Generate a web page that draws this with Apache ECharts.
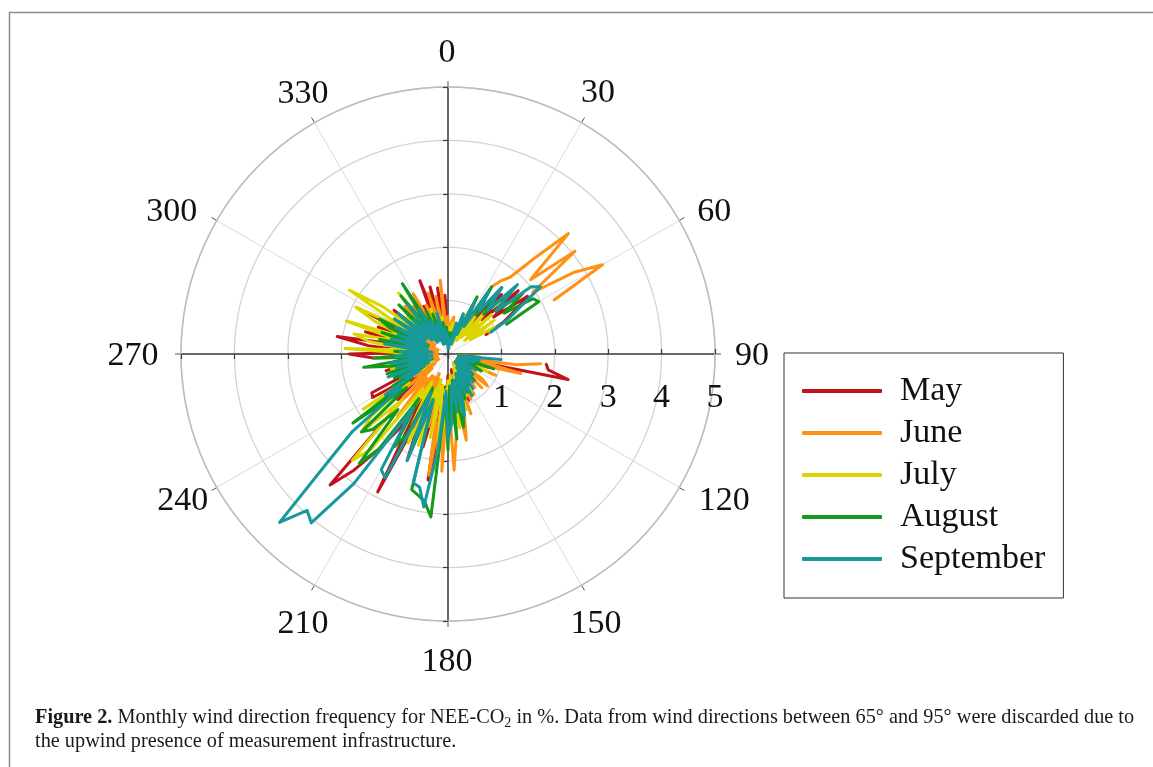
<!DOCTYPE html>
<html>
<head>
<meta charset="utf-8">
<script src="https://cdn.jsdelivr.net/npm/echarts@6/dist/echarts.min.js"></script>
<style>
  html, body { margin: 0; padding: 0; background: #fff; }
  #chart { width: 1153px; height: 767px; }
</style>
</head>
<body>
<div id="chart"></div>
<script>
// Wind direction bins (degrees clockwise from north). 65°–95° discarded.
const directions = [
  96, 99, 102, 105, 108, 111, 114, 117, 120, 123,
  126, 129, 132, 135, 138, 141, 144, 147, 150, 153,
  156, 159, 162, 165, 168, 171, 174, 177, 180, 183,
  186, 189, 192, 195, 198, 201, 204, 207, 210, 213,
  216, 219, 222, 225, 228, 231, 234, 237, 240, 243,
  246, 249, 252, 255, 258, 261, 264, 267, 270, 273,
  276, 279, 282, 285, 288, 291, 294, 297, 300, 303,
  306, 309, 312, 315, 318, 321, 324, 327, 330, 333,
  336, 339, 342, 345, 348, 351, 354, 357, 0, 3,
  6, 9, 12, 15, 18, 21, 24, 27, 30, 33,
  36, 39, 42, 45, 48, 51, 54, 57, 60, 63
];

// Frequency (%) per direction bin, one array per month
const may = [
  1.85, 1.9, 2.3, 0.5, 0.8, 0.3, 0.6, 0.2, 0.5, 0.2,
  0.4, 0.2, 0.5, 0.3, 0.2, 0.5, 0.3, 0.6, 0.2, 0.7,
  0.95, 0.3, 0.7, 1.0, 0.3, 1.1, 0.5, 1.2, 0.4, 1.3,
  1.46, 2.39, 0.6, 1.8, 0.9, 2.13, 1.2, 2.9, 1.0, 1.65,
  2.2, 2.8, 3.3, 1.2, 1.27, 0.7, 1.3, 0.6, 1.63, 1.6,
  0.5, 1.0, 0.4, 1.2, 0.6, 1.3, 0.5, 1.4, 1.85, 0.6,
  1.5, 2.1, 0.7, 1.6, 0.5, 1.4, 0.6, 1.66, 0.5, 1.2,
  0.4, 1.3, 0.5, 1.1, 0.4, 1.2, 0.6, 1.1, 0.4, 1.0,
  0.5, 1.47, 0.6, 1.3, 0.4, 1.25, 0.3, 1.1, 0.3, 0.5,
  0.2, 0.6, 0.2, 0.5, 0.2, 0.6, 0.3, 0.8, 0.4, 1.0,
  0.6, 1.3, 1.5, 0.9, 1.77, 1.1, 1.84, 1.5, 1.2, 0.8
];
const june = [
  1.74, 1.3, 0.5, 1.41, 0.67, 0.3, 0.98, 0.3, 0.6, 0.2,
  0.8, 0.95, 0.3, 0.9, 0.3, 0.8, 0.2, 0.9, 0.4, 0.95,
  0.4, 1.2, 0.5, 1.2, 1.65, 0.6, 1.5, 2.18, 0.7, 2.2,
  0.9, 2.3, 0.8, 1.4, 0.5, 1.3, 0.4, 1.5, 0.5, 1.4,
  0.5, 1.5, 0.6, 1.3, 0.4, 1.0, 0.3, 0.8, 0.2, 0.9,
  0.3, 0.8, 0.2, 0.9, 0.3, 0.8, 0.2, 0.7, 0.9, 0.3,
  0.7, 0.2, 0.8, 0.3, 0.9, 0.2, 0.6, 1.0, 0.3, 0.9,
  0.3, 1.0, 0.4, 0.9, 1.2, 0.4, 1.1, 0.3, 1.3, 0.4,
  1.0, 0.4, 1.2, 0.5, 1.1, 0.3, 1.39, 0.4, 0.7, 0.2,
  0.6, 0.7, 0.2, 0.4, 0.2, 0.8, 0.3, 1.1, 0.5, 1.5,
  1.7, 1.85, 2.4, 3.19, 2.08, 3.06, 1.96, 2.8, 3.34, 2.23
];
const july = [
  0.5, 0.2, 0.6, 0.3, 0.7, 0.2, 0.8, 0.3, 0.6, 0.2,
  0.5, 0.2, 0.4, 0.2, 0.6, 0.3, 0.5, 0.8, 0.2, 0.7,
  0.85, 0.3, 1.1, 0.4, 0.9, 1.4, 0.4, 1.0, 0.5, 1.2,
  2.2, 0.6, 1.6, 0.5, 1.8, 0.7, 1.83, 1.42, 0.6, 1.5,
  0.8, 2.3, 2.68, 1.2, 2.18, 1.85, 0.9, 1.9, 0.5, 0.9,
  0.3, 1.0, 0.4, 1.1, 0.5, 1.2, 0.4, 1.3, 0.6, 1.93,
  0.7, 1.5, 1.8, 0.9, 2.0, 0.8, 1.5, 1.94, 0.9, 2.2,
  1.5, 0.5, 1.0, 1.09, 0.4, 1.47, 0.6, 1.0, 0.3, 0.8,
  0.3, 0.9, 0.2, 0.8, 0.3, 0.7, 0.2, 0.5, 0.2, 0.5,
  0.2, 0.6, 0.3, 0.4, 0.6, 0.2, 0.7, 0.3, 0.8, 0.3,
  0.9, 0.4, 1.0, 0.5, 1.1, 0.4, 1.07, 0.5, 1.0, 0.88
];
const august = [
  0.6, 0.2, 0.5, 0.3, 0.9, 0.2, 0.5, 0.7, 0.2, 0.5,
  0.2, 0.6, 0.3, 0.7, 0.2, 0.6, 0.3, 0.7, 0.4, 0.8,
  0.4, 0.9, 0.5, 1.1, 1.4, 0.5, 1.6, 0.6, 1.8, 0.8,
  3.07, 2.8, 2.7, 2.63, 0.9, 1.9, 0.7, 1.7, 2.0, 1.0,
  2.2, 2.64, 1.4, 2.0, 2.18, 1.0, 2.2, 0.8, 1.2, 0.5,
  1.1, 0.4, 1.2, 0.5, 1.1, 1.6, 0.6, 1.4, 0.5, 1.0,
  0.4, 1.0, 1.31, 0.5, 1.3, 0.4, 1.2, 1.44, 0.5, 1.1,
  0.5, 1.2, 0.4, 1.3, 0.5, 1.4, 0.6, 1.57, 0.4, 0.9,
  0.3, 0.8, 0.3, 0.7, 0.2, 0.6, 0.3, 0.5, 0.2, 0.4,
  0.2, 0.4, 0.2, 0.5, 0.3, 0.8, 0.4, 1.2, 0.6, 1.5,
  0.9, 1.6, 1.0, 1.7, 1.2, 1.8, 1.3, 1.9, 1.96, 1.23
];
const september = [
  1.0, 0.3, 0.6, 0.2, 0.5, 0.2, 0.4, 0.2, 0.6, 0.2,
  0.5, 0.2, 0.6, 0.2, 0.7, 0.3, 0.8, 0.3, 0.9, 0.4,
  0.8, 0.4, 0.9, 1.2, 0.5, 1.1, 0.6, 1.3, 1.6, 0.7,
  1.8, 2.9, 2.55, 2.5, 0.9, 2.14, 0.8, 2.6, 2.5, 1.2,
  3.0, 4.07, 3.94, 4.46, 3.05, 2.3, 1.1, 1.4, 0.6, 1.0,
  0.4, 1.2, 0.3, 1.0, 0.4, 1.1, 0.3, 1.0, 0.4, 0.9,
  0.3, 1.2, 0.4, 1.1, 0.5, 1.0, 0.4, 1.1, 0.5, 1.2,
  0.5, 1.2, 0.4, 0.9, 0.3, 1.2, 0.3, 1.0, 0.3, 0.7,
  0.2, 0.6, 0.3, 0.8, 0.2, 0.5, 0.2, 0.4, 0.1, 0.3,
  0.1, 0.3, 0.2, 0.6, 0.2, 0.8, 0.4, 1.1, 0.6, 1.4,
  1.0, 1.6, 1.1, 1.84, 1.2, 2.0, 2.14, 1.6, 1.3, 0.9
];

const months = ['May', 'June', 'July', 'August', 'September'];
const monthValues = [may, june, july, august, september];
const monthColors = ['#c0121c', '#ff9214', '#dcd600', '#13991b', '#17999c'];

// Compass labels around the rose
const compassTicks = [0, 30, 60, 90, 120, 150, 180, 210, 240, 270, 300, 330];

// Small per-label nudges (px) for the compass labels
const compassLabelNudge = {
  0: [-1, 3], 30: [-2, 2], 60: [3, 10], 90: [0, 2],
  120: [13, -5], 150: [-4, 7], 180: [-1, 4], 210: [7, 7],
  240: [-2, -5], 270: [-11, 2], 300: [-13, 10], 330: [7, 3]
};

const SERIF = '"Liberation Serif", "Times New Roman", serif';
const CENTER = [448, 354];
const R = 267;
const AXIS_DARK = '#3c3c3c';

const chart = echarts.init(document.getElementById('chart'), null, { renderer: 'canvas' });

// One hidden angle axis per half-axis polar, so each radius axis points its own way
function hiddenAngle(idx, start) {
  return { polarIndex: idx, type: 'value', min: 0, max: 360, startAngle: start, clockwise: true, show: false };
}
function halfAxis(idx, tickLen, withLabels) {
  return {
    polarIndex: idx, type: 'value', min: 0, max: 5, interval: 1,
    axisLine: { show: true, lineStyle: { color: AXIS_DARK, width: 1.5 } },
    axisTick: { show: true, length: tickLen, lineStyle: { color: AXIS_DARK, width: 1.2 } },
    axisLabel: withLabels
      ? { show: true, margin: -61, fontSize: 34, fontFamily: SERIF, color: '#111' }
      : { show: false },
    splitLine: { show: false }
  };
}

const lineSeries = months.map((name, i) => ({
  type: 'line',
  name: name,
  coordinateSystem: 'polar',
  polarIndex: 0,
  data: directions.map((d, j) => [monthValues[i][j], d]),
  symbol: 'none',
  smooth: false,
  lineStyle: { color: monthColors[i], width: 3, cap: 'round', join: 'round' },
  itemStyle: { color: monthColors[i] },
  z: 3 + i,
  silent: true
}));

const option = {
  animation: false,
  backgroundColor: '#ffffff',
  polar: [
    { center: CENTER, radius: R },
    { center: CENTER, radius: R },
    { center: CENTER, radius: R },
    { center: CENTER, radius: R },
    { center: CENTER, radius: 304 }
  ],
  angleAxis: [
    {
      polarIndex: 0, type: 'value', min: 0, max: 360, interval: 30,
      startAngle: 90, clockwise: true,
      axisLine: { show: true, lineStyle: { color: '#bdbdbd', width: 1.5 } },
      axisTick: { show: true, length: 6, lineStyle: { color: '#555', width: 1 } },
      axisLabel: { show: false },
      splitLine: { show: true, lineStyle: { color: '#dadada', width: 1 } }
    },
    hiddenAngle(1, 0),
    hiddenAngle(2, 180),
    hiddenAngle(3, 270),
    hiddenAngle(4, 90)
  ],
  radiusAxis: [
    {
      polarIndex: 0, type: 'value', min: 0, max: 5, interval: 1,
      axisLine: { show: true, lineStyle: { color: AXIS_DARK, width: 1.5 } },
      axisTick: { show: true, length: 5, lineStyle: { color: AXIS_DARK, width: 1.2 } },
      axisLabel: { show: false },
      splitLine: { show: true, lineStyle: { color: '#d3d3d3', width: 1.3 } }
    },
    halfAxis(1, 5, true),
    halfAxis(2, 5, false),
    halfAxis(3, -5, false),
    { polarIndex: 4, type: 'value', min: 0, max: 1, show: false }
  ],
  legend: {
    data: months,
    orient: 'vertical',
    left: 784,
    top: 353,
    icon: 'roundRect',
    itemWidth: 80,
    itemHeight: 4,
    itemGap: 0,
    padding: [17, 18, 18, 18],
    borderColor: '#333',
    borderWidth: 1,
    textStyle: { fontSize: 34, fontFamily: SERIF, color: '#111', lineHeight: 42, padding: [0, 0, 0, 13] }
  },
  series: [
    {
      type: 'scatter',
      coordinateSystem: 'polar',
      polarIndex: 4,
      data: compassTicks.map(a => ({
        value: [1, a],
        label: { offset: compassLabelNudge[a] }
      })),
      symbolSize: 0,
      itemStyle: { color: '#ffffff', opacity: 1 },
      label: {
        show: true, position: 'inside',
        formatter: p => String(p.value[1]),
        fontSize: 34, fontFamily: SERIF, color: '#111', opacity: 1
      },
      silent: true,
      z: 1
    }
  ].concat(lineSeries),
  graphic: [
    {
      type: 'rect',
      shape: { x: 9.5, y: 12.5, width: 1400, height: 900 },
      style: { fill: 'none', stroke: '#8c8c8c', lineWidth: 1.5 },
      silent: true
    },
    {
      type: 'text',
      x: 35,
      y: 706,
      style: {
        text: '{b|Figure 2.} Monthly wind direction frequency for NEE-CO{s|2} in %. Data from wind directions between 65° and 95° were discarded due to\nthe upwind presence of measurement infrastructure.',
        fontSize: 20.3,
        fontFamily: SERIF,
        lineHeight: 24,
        fill: '#1a1a1a',
        rich: {
          b: { fontWeight: 'bold', fontSize: 20.3, fontFamily: SERIF, fill: '#1a1a1a' },
          s: { fontSize: 14, fontFamily: SERIF, verticalAlign: 'bottom', lineHeight: 18, fill: '#1a1a1a' }
        }
      },
      silent: true
    }
  ]
};

chart.setOption(option);
</script>
</body>
</html>
